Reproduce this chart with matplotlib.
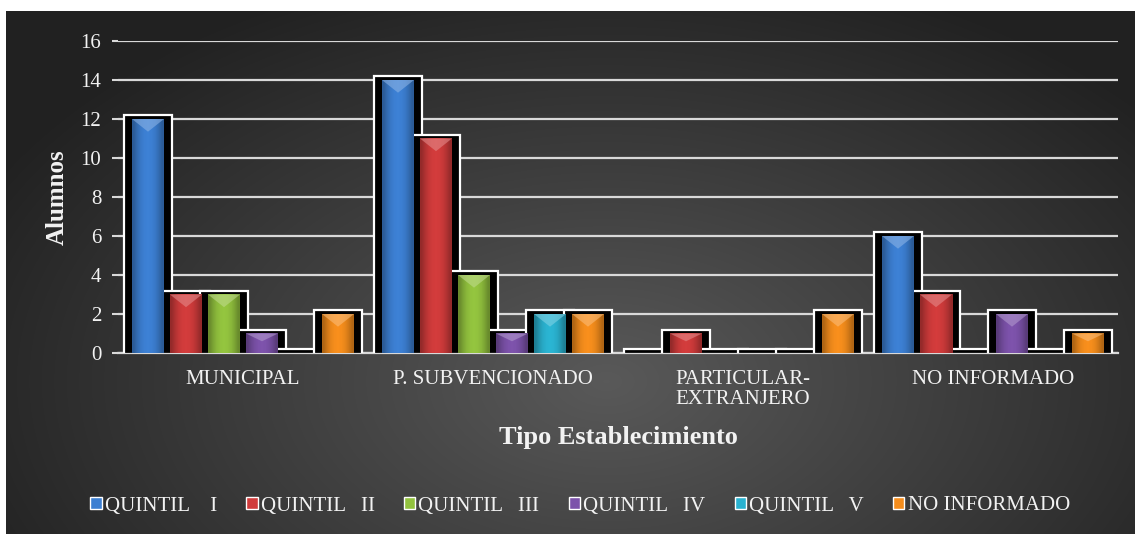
import matplotlib
matplotlib.use('Agg')
import matplotlib.pyplot as plt
from matplotlib.patches import Rectangle, Polygon, Patch
import numpy as np

# datos
categorias = ['MUNICIPAL', 'P. SUBVENCIONADO', 'PARTICULAR-\nEXTRANJERO', 'NO INFORMADO']
series = ['QUINTIL    I', 'QUINTIL   II', 'QUINTIL   III', 'QUINTIL   IV', 'QUINTIL   V', 'NO INFORMADO']
quintil_1 = [12, 14, 0, 6]
quintil_2 = [3, 11, 1, 3]
quintil_3 = [3, 4, 0, 0]
quintil_4 = [1, 1, 0, 2]
quintil_5 = [0, 2, 0, 0]
no_informado = [2, 2, 2, 1]
valores = [quintil_1, quintil_2, quintil_3, quintil_4, quintil_5, no_informado]
colores = ['#3c7fd2', '#d03b3b', '#92c23e', '#7c52aa', '#2ab2d0', '#f58d1c']

plt.rcParams['font.family'] = ['Liberation Serif', 'DejaVu Serif']
txt = '#f2f2f2'

fig = plt.figure(figsize=(11.35, 5.34), dpi=100)
fig.patch.set_facecolor('white')

# fondo oscuro con degradado radial
bg = fig.add_axes([6/1135, 0, 1 - 6/1135, 1 - 11/534])
yy, xx = np.mgrid[0:523, 0:1129]
r = np.sqrt(((xx - 600) / 700.0)**2 + ((yy - 370) / 430.0)**2)
g = np.clip(0.35 - 0.22 * r, 0.13, 1)
bg.imshow(np.dstack([g, g, g]), aspect='auto', extent=[0, 1, 0, 1], interpolation='bilinear')
bg.axis('off')

ax = fig.add_axes([118/1135, 1 - 353/534, 1000/1135, 312/534])
ax.set_facecolor('none')

paso = 0.152
ancho = 0.128
marco = 0.19
x = np.arange(len(categorias))

# marcos blancos con sombra negra
for i, vals in enumerate(valores):
    for j, v in enumerate(vals):
        xc = x[j] + (i - 2.5) * paso
        ax.add_patch(Rectangle((xc - marco/2, -0.05), marco, v + 0.25,
                               facecolor='black', edgecolor='white', lw=1.6, zorder=3))

# barras con brillo
perfil = np.array([0.72, 0.85, 0.95, 1.0, 1.02, 1.0, 0.95, 0.85, 0.72])
for i, vals in enumerate(valores):
    base = np.array(matplotlib.colors.to_rgb(colores[i]))
    img = np.clip(perfil[None, :, None] * base[None, None, :], 0, 1)
    for j, v in enumerate(vals):
        if v <= 0:
            continue
        xc = x[j] + (i - 2.5) * paso
        x0, x1 = xc - ancho/2, xc + ancho/2
        ax.imshow(img, extent=[x0, x1, 0, v], aspect='auto', interpolation='bilinear', zorder=4)
        b = min(0.65, 0.4 * v)
        claro = np.clip(base * 0.6 + 0.4, 0, 1)
        ax.add_patch(Polygon([(x0, v), (x1, v), (xc, v - b)], closed=True,
                             facecolor=claro, edgecolor='none', alpha=0.6, zorder=5))

ax.set_xlim(-0.5, 3.5)
ax.set_ylim(0, 16)
ax.set_yticks(range(0, 17, 2))
ax.grid(axis='y', color='#d9d9d9', lw=1.6, zorder=1)
ax.set_axisbelow(True)
for s in ['top', 'right', 'left']:
    ax.spines[s].set_visible(False)
ax.spines['bottom'].set_color('#d9d9d9')
ax.spines['bottom'].set_linewidth(1.6)

ax.set_xticks(x)
ax.set_xticklabels(categorias, fontsize=15, color=txt, linespacing=1.1)
ax.tick_params(axis='x', length=0, pad=12)
ax.tick_params(axis='y', length=4, width=1.5, color='#d9d9d9', labelsize=15, labelcolor=txt, pad=8)

ax.set_ylabel('Alumnos', fontsize=18, fontweight='bold', color=txt)
ax.yaxis.set_label_coords(-0.049, 0.5)
ax.set_xlabel('Tipo Establecimiento', fontsize=19, fontweight='bold', color=txt)
ax.xaxis.set_label_coords(0.5, -0.235)

handles = [Patch(facecolor=c, edgecolor='white', lw=1) for c in colores]
fig.legend(handles, series, loc='center', bbox_to_anchor=(580/1135, 1 - 506/534), ncol=6,
           frameon=False, fontsize=15, labelcolor=txt, handlelength=0.55, handleheight=0.55,
           handletextpad=0.15, columnspacing=1.4)

fig.savefig('out.png', dpi=100)
